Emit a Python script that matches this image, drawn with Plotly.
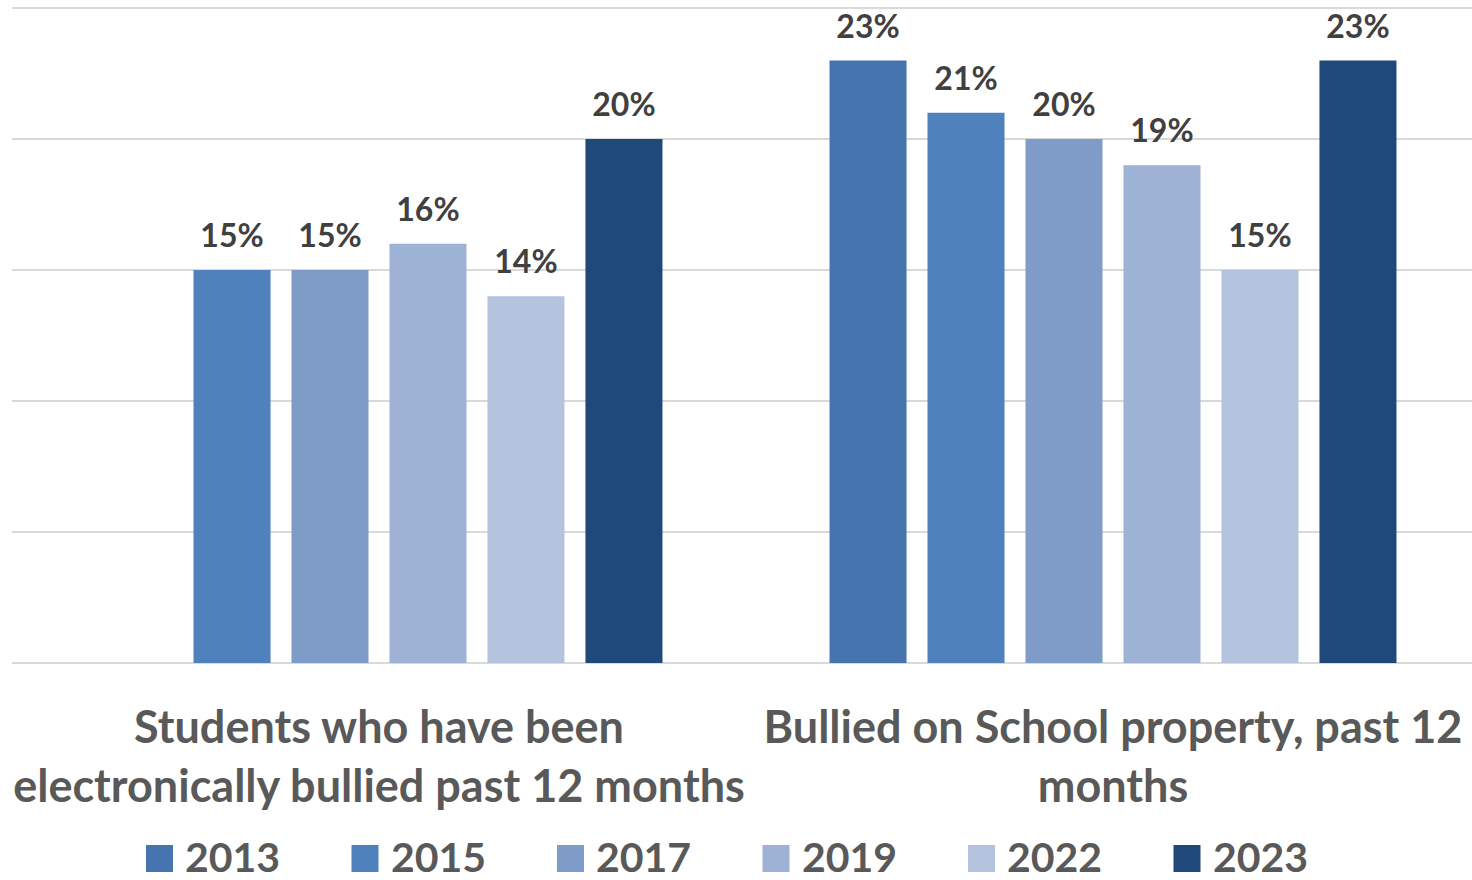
import plotly.graph_objects as go

categories = ["Students who have been<br>electronically bullied past 12 months",
              "Bullied on School property, past 12<br>months"]
years = ["2013", "2015", "2017", "2019", "2022", "2023"]
values = {
    "2013": [None, 23],
    "2015": [15, 21],
    "2017": [15, 20],
    "2019": [16, 19],
    "2022": [14, 15],
    "2023": [20, 23],
}
colors = {
    "2013": "#4674AE",
    "2015": "#4F81BD",
    "2017": "#7F9CC8",
    "2019": "#9DB2D4",
    "2022": "#B4C4DF",
    "2023": "#1F487B",
}

# the original plot area runs a little past the right edge of the picture
W, H = 1480, 880
L, R, T, B = 12, 0, 3, 217
FONT = "Lato"
BARGAP = 0.199

fig = go.Figure()
for y in years:
    fig.add_trace(go.Bar(
        name=y, x=categories, y=values[y],
        marker=dict(color=colors[y], line=dict(width=0)),
        showlegend=False, hoverinfo="skip",
    ))
# data labels (grouped text traces aligned with the bars)
for y in years:
    fig.add_trace(go.Scatter(
        x=categories, y=values[y], mode="markers+text",
        marker=dict(size=22, opacity=0, color=colors[y]),
        text=[("%d%%" % v) if v is not None else "" for v in values[y]],
        textposition="top center",
        textfont=dict(family=FONT, size=32, color="#404040", weight="bold"),
        cliponaxis=False, showlegend=False, name=y,
    ))

fig.update_layout(
    width=W, height=H,
    margin=dict(l=L, r=R, t=T, b=B),
    paper_bgcolor="white", plot_bgcolor="white",
    barmode="group", bargap=BARGAP, bargroupgap=0.214,
    scattermode="group", scattergap=BARGAP,
    xaxis=dict(
        showgrid=False, showline=False, zeroline=False,
        tickfont=dict(family=FONT, size=45, color="#595959", weight="bold"),
        ticklabelstandoff=34,
    ),
    yaxis=dict(
        range=[0, 25.19], tickvals=[0, 5, 10, 15, 20, 25], showticklabels=False,
        showgrid=True, gridcolor="#D9D9D9", gridwidth=2,
        zeroline=True, zerolinecolor="#D9D9D9", zerolinewidth=2,
        showline=False,
    ),
)

# custom legend (large square markers like the original)
plot_w = W - L - R
plot_h = H - T - B
def px_x(px):
    return (px - L) / plot_w
def px_y(py):
    return (H - B - py) / plot_h

leg_x0 = 146
leg_step = 205.5
sq = 27
sq_top = 845
for i, y in enumerate(years):
    x0 = leg_x0 + i * leg_step
    fig.add_shape(type="rect", xref="paper", yref="paper",
                  x0=px_x(x0), x1=px_x(x0 + sq),
                  y0=px_y(sq_top + sq), y1=px_y(sq_top),
                  fillcolor=colors[y], line=dict(width=0))
    fig.add_annotation(xref="paper", yref="paper",
                       x=px_x(x0 + sq + 11), y=px_y(sq_top + sq / 2 - 2),
                       xanchor="left", yanchor="middle", showarrow=False,
                       text=y, borderpad=0,
                       font=dict(family=FONT, size=41, color="#595959", weight="bold"))

fig.write_html("out.html",
               config={"displayModeBar": False},
               post_script="document.body.style.margin='0';document.body.style.overflow='hidden';")
